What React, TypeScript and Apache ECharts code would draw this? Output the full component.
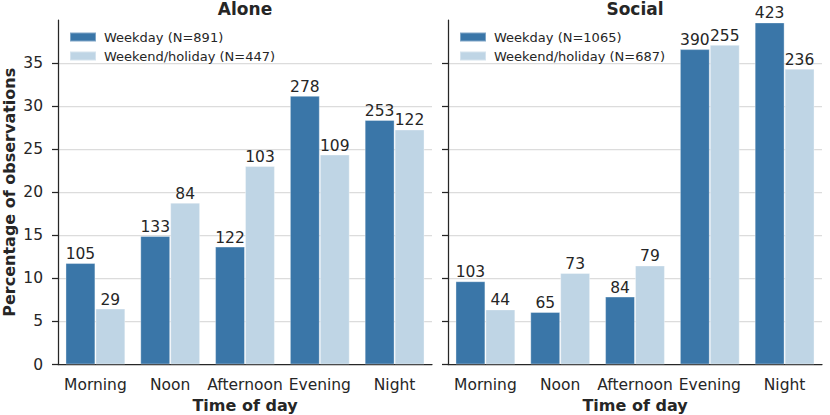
import React, { useEffect, useRef } from "react";
import * as echarts from "echarts";

const categories = ["Morning", "Noon", "Afternoon", "Evening", "Night"];
const yTicks = [0, 5, 10, 15, 20, 25, 30, 35];

const aloneWeekdayName = "Weekday (N=891)";
const aloneWeekendName = "Weekend/holiday (N=447)";
const socialWeekdayName = "Weekday (N=1065)";
const socialWeekendName = "Weekend/holiday (N=687)";

// percentage of observations
const aloneWeekdayPct = [11.78, 14.93, 13.69, 31.2, 28.4];
const aloneWeekendPct = [6.49, 18.79, 23.04, 24.38, 27.29];
const socialWeekdayPct = [9.67, 6.1, 7.89, 36.62, 39.72];
const socialWeekendPct = [6.4, 10.63, 11.5, 37.12, 34.35];

// counts shown above bars
const aloneWeekdayCount = [105, 133, 122, 278, 253];
const aloneWeekendCount = [29, 84, 103, 109, 122];
const socialWeekdayCount = [103, 65, 84, 390, 423];
const socialWeekendCount = [44, 73, 79, 255, 236];

const DARK = "#3a76a8";
const LIGHT = "#bfd5e5";
const TEXT = "#262626";
const GRID = "#dcdcdc";
const FONT = "DejaVu Sans";

export default function App() {
  const ref = useRef<HTMLDivElement>(null);

  useEffect(() => {
    document.body.style.margin = "0";
    if (!ref.current) return;
    const chart = echarts.init(ref.current, undefined, { renderer: "svg" });

    const gridColors = ["transparent", GRID, GRID, GRID, GRID, GRID, GRID, GRID, "transparent"];

    const makeX = (gridIndex: number) => ({
      type: "category",
      gridIndex,
      data: categories,
      name: "Time of day",
      nameLocation: "middle",
      nameGap: 33,
      nameTextStyle: { fontFamily: FONT, fontSize: 16, fontWeight: "bold", color: TEXT },
      axisLine: { lineStyle: { color: TEXT, width: 1.25 } },
      axisTick: { alignWithLabel: true, length: 6, lineStyle: { color: TEXT, width: 1.25 } },
      axisLabel: { fontFamily: FONT, fontSize: 15.5, color: TEXT, margin: 12, interval: 0 },
      splitLine: { show: false },
    });

    const makeY = (gridIndex: number, showLabels: boolean) => ({
      type: "value",
      gridIndex,
      min: 0,
      max: 40,
      interval: 5,
      name: showLabels ? "Percentage of observations" : "",
      nameLocation: "middle",
      nameGap: 41,
      nameTextStyle: { fontFamily: FONT, fontSize: 16, fontWeight: "bold", color: TEXT },
      axisLine: { show: true, lineStyle: { color: TEXT, width: 1.25 } },
      axisTick: {
        show: true,
        length: 6,
        lineStyle: { color: TEXT, width: 1.25 },
        customValues: yTicks,
      },
      axisLabel: {
        show: showLabels,
        fontFamily: FONT,
        fontSize: 15.5,
        color: TEXT,
        margin: 15,
        customValues: yTicks,
      },
      splitLine: { show: true, lineStyle: { color: gridColors, width: 1.25 } },
    });

    const barLabel = (counts: number[]) => ({
      show: true,
      position: "top",
      distance: 1,
      fontFamily: FONT,
      fontSize: 15.5,
      color: TEXT,
      formatter: (p: any) => String(counts[p.dataIndex]),
    });

    const makeBar = (name: string, data: number[], counts: number[], color: string, idx: number) => ({
      type: "bar",
      name,
      xAxisIndex: idx,
      yAxisIndex: idx,
      data,
      barGap: "0%",
      barCategoryGap: "20%",
      itemStyle: { color, borderColor: "rgba(255,255,255,0.35)", borderWidth: 1 },
      label: barLabel(counts),
    });

    const legendCommon = {
      orient: "vertical",
      top: 30,
      padding: 0,
      itemWidth: 26,
      itemHeight: 9,
      itemGap: 5,
      icon: "rect",
      textStyle: { fontFamily: FONT, fontSize: 13, color: TEXT, lineHeight: 14, padding: [0, 0, 0, 3] },
    };

    chart.setOption({
      animation: false,
      backgroundColor: "#ffffff",
      textStyle: { fontFamily: FONT },
      title: [
        {
          text: "Alone",
          left: 245,
          textAlign: "center",
          top: 0,
          padding: 0,
          textStyle: { fontFamily: FONT, fontSize: 17, fontWeight: "bold", color: TEXT },
        },
        {
          text: "Social",
          left: 635,
          textAlign: "center",
          top: 0,
          padding: 0,
          textStyle: { fontFamily: FONT, fontSize: 17, fontWeight: "bold", color: TEXT },
        },
      ],
      legend: [
        { ...legendCommon, left: 69, data: [aloneWeekdayName, aloneWeekendName] },
        { ...legendCommon, left: 459, data: [socialWeekdayName, socialWeekendName] },
      ],
      grid: [
        { left: 58, right: 398, top: 20, bottom: 50.5, containLabel: false, outerBoundsMode: "none" },
        { left: 448, right: 8, top: 20, bottom: 50.5, containLabel: false, outerBoundsMode: "none" },
      ],
      xAxis: [makeX(0), makeX(1)],
      yAxis: [makeY(0, true), makeY(1, false)],
      series: [
        makeBar(aloneWeekdayName, aloneWeekdayPct, aloneWeekdayCount, DARK, 0),
        makeBar(aloneWeekendName, aloneWeekendPct, aloneWeekendCount, LIGHT, 0),
        makeBar(socialWeekdayName, socialWeekdayPct, socialWeekdayCount, DARK, 1),
        makeBar(socialWeekendName, socialWeekendPct, socialWeekendCount, LIGHT, 1),
      ],
    });

    return () => chart.dispose();
  }, []);

  return (
    <div
      ref={ref}
      style={{ position: "fixed", left: 0, top: 0, width: 830, height: 415 }}
    />
  );
}
